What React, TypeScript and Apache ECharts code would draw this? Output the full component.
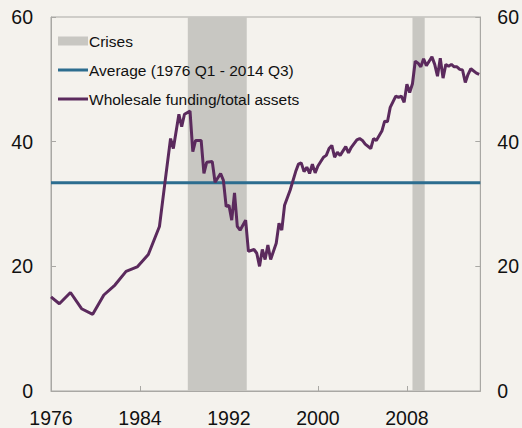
import React, { useEffect, useRef } from "react";
import * as echarts from "echarts";

// Dates (decimal years) and values
const dates: number[] = [
  1976.0, 1976.75, 1977.75, 1978.75, 1979.75, 1980.75, 1981.75, 1982.75, 1983.75, 1984.75,
  1985.75, 1986.25, 1986.75, 1987.0, 1987.5, 1987.75, 1988.0, 1988.5, 1988.75, 1989.0,
  1989.5, 1989.75, 1990.0, 1990.5, 1990.75, 1991.25, 1991.5, 1991.75, 1992.0, 1992.25,
  1992.5, 1992.75, 1993.0, 1993.5, 1993.75, 1994.25, 1994.5, 1994.75, 1995.0, 1995.25,
  1995.5, 1995.75, 1996.25, 1996.5, 1996.75, 1997.0, 1997.5, 1998.0, 1998.25, 1998.5,
  1998.75, 1999.0, 1999.25, 1999.5, 1999.75, 2000.0, 2000.5, 2000.75, 2001.0, 2001.25,
  2001.5, 2001.75, 2002.0, 2002.5, 2002.75, 2003.0, 2003.5, 2003.75, 2004.0, 2004.25,
  2004.75, 2005.0, 2005.25, 2005.75, 2006.0, 2006.25, 2006.5, 2007.0, 2007.25, 2007.5,
  2007.75, 2008.0, 2008.25, 2008.5, 2008.75, 2009.0, 2009.25, 2009.5, 2009.75, 2010.0,
  2010.25, 2010.5, 2010.75, 2011.0, 2011.25, 2011.5, 2011.75, 2012.0, 2012.25, 2012.5,
  2012.75, 2013.0, 2013.25, 2013.5, 2013.75, 2014.25, 2014.5,
];
const wholesale: number[] = [
  15.1, 14.0, 15.8, 13.2, 12.3, 15.4, 17.0, 19.2, 19.9, 21.9,
  26.4, 33.5, 40.5, 38.9, 44.4, 42.4, 44.4, 44.9, 38.4, 40.2,
  40.2, 34.9, 36.7, 36.8, 33.5, 34.9, 33.8, 29.6, 29.8, 27.4,
  31.8, 26.4, 25.8, 27.4, 22.4, 22.7, 22.1, 20.0, 22.7, 21.1,
  23.4, 21.1, 23.7, 26.9, 25.8, 29.8, 32.2, 35.2, 36.4, 36.6,
  35.2, 35.9, 34.9, 36.4, 35.0, 36.1, 37.5, 37.8, 38.9, 39.4,
  37.5, 38.3, 37.8, 39.2, 38.2, 39.1, 40.3, 40.5, 40.2, 39.6,
  38.9, 40.5, 40.2, 41.7, 43.3, 43.2, 45.5, 47.3, 47.1, 47.3,
  46.3, 49.2, 47.9, 49.3, 52.9, 52.6, 52.0, 53.3, 52.2, 52.9,
  53.6, 52.4, 50.5, 53.4, 50.2, 52.4, 52.1, 52.4, 52.0, 52.0,
  51.6, 51.5, 49.5, 50.8, 51.7, 51.0, 50.8,
];
const averageValue = 33.4;
const averageSpan: number[] = [1976.0, 2014.6];
const crisesStart: number[] = [1988.3, 2008.5];
const crisesEnd: number[] = [1993.6, 2009.6];

const NAME_CRISES = "Crises";
const NAME_AVG = "Average (1976 Q1 - 2014 Q3)";
const NAME_WS = "Wholesale funding/total assets";

const BG = "#f4f2ed";
const AXIS = "#a9a8a4";
const GRAY = "#c8c7c2";
const BLUE = "#2c6d8f";
const PURPLE = "#5b2a5d";
const FONT = "'Liberation Sans', Arial, sans-serif";

export default function App() {
  const ref = useRef<HTMLDivElement>(null);
  useEffect(() => {
    if (!ref.current) return;
    const chart = echarts.init(ref.current, undefined, { renderer: "svg" });
    const axisLabel = { color: "#111", fontSize: 19.5, fontFamily: FONT };
    const yAxisBase = {
      type: "value" as const,
      min: 0,
      max: 60,
      interval: 20,
      axisLine: { show: true, lineStyle: { color: AXIS, width: 1 } },
      axisTick: { show: true, inside: true, length: 5, lineStyle: { color: AXIS } },
      splitLine: { show: false },
    };
    const legendText = { color: "#111", fontSize: 15.5, fontFamily: FONT, padding: [0, 0, 0, -4] };
    chart.setOption({
      animation: false,
      backgroundColor: BG,
      textStyle: { fontFamily: FONT },
      grid: {
        left: 51,
        right: 41,
        top: 17,
        bottom: 34,
        show: true,
        borderColor: AXIS,
        borderWidth: 1,
        backgroundColor: "transparent",
      },
      legend: [
        {
          data: [NAME_CRISES],
          orient: "vertical",
          left: 58,
          top: 33,
          padding: 0,
          icon: "rect",
          itemWidth: 30,
          itemHeight: 9,
          textStyle: legendText,
          selectedMode: false,
        },
        {
          data: [NAME_AVG, NAME_WS],
          orient: "vertical",
          left: 58,
          top: 62,
          padding: 0,
          icon: "rect",
          itemWidth: 30,
          itemHeight: 3,
          itemGap: 13,
          textStyle: legendText,
          selectedMode: false,
        },
      ],
      xAxis: {
        type: "value",
        min: 1976,
        max: 2014.6,
        interval: 8,
        axisLine: { show: true, lineStyle: { color: AXIS, width: 1 } },
        axisTick: { show: true, inside: true, length: 5, lineStyle: { color: AXIS } },
        splitLine: { show: false },
        axisLabel: { ...axisLabel, margin: 17, showMaxLabel: false, formatter: (v: number) => String(v) },
      },
      yAxis: [
        { ...yAxisBase, position: "left", axisLabel: { ...axisLabel, margin: 18 } },
        { ...yAxisBase, position: "right", axisLabel: { ...axisLabel, margin: 17 } },
      ],
      series: [
        {
          name: NAME_CRISES,
          type: "line",
          data: [],
          color: GRAY,
          z: 1,
          markArea: {
            silent: true,
            itemStyle: { color: GRAY, opacity: 1 },
            data: crisesStart.map((s, i) => [{ xAxis: s }, { xAxis: crisesEnd[i] }]),
          },
        },
        {
          name: NAME_AVG,
          type: "line",
          data: averageSpan.map((x) => [x, averageValue]),
          color: BLUE,
          symbol: "none",
          lineStyle: { color: BLUE, width: 3 },
          z: 3,
        },
        {
          name: NAME_WS,
          type: "line",
          data: dates.map((d, i) => [d, wholesale[i]]),
          color: PURPLE,
          symbol: "none",
          lineStyle: { color: PURPLE, width: 3 },
          z: 4,
        },
      ],
    });
    return () => chart.dispose();
  }, []);
  return (
    <div
      ref={ref}
      style={{ position: "fixed", left: 0, top: 0, width: 522, height: 428 }}
    />
  );
}
